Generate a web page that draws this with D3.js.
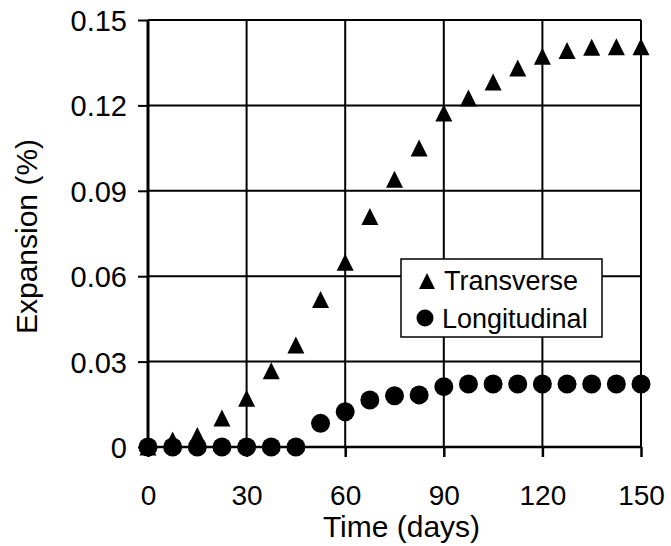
<!DOCTYPE html>
<html>
<head>
<meta charset="utf-8">
<script src="https://cdn.jsdelivr.net/npm/d3@7"></script>
<style>
html,body{margin:0;padding:0;background:#fff;}
svg{display:block;}
text{font-family:"Liberation Sans",Arial,Helvetica,sans-serif;fill:#000;}
</style>
</head>
<body>
<svg id="chart" width="671" height="546"></svg>
<script>
const days = [0,7.5,15,22.5,30,37.5,45,52.5,60,67.5,75,82.5,90,97.5,105,112.5,120,127.5,135,142.5,150];
const transverse = [0,0.0025,0.004,0.0102,0.0171,0.0268,0.0358,0.0518,0.0649,0.081,0.0941,0.105,0.1173,0.1226,0.1282,0.1331,0.1373,0.1393,0.1404,0.1406,0.1406];
const longitudinal = [0,0,0,0,0,0,0,0.0083,0.0124,0.0165,0.018,0.0183,0.0212,0.0221,0.0221,0.0221,0.0221,0.0221,0.0221,0.0221,0.0221];
const xTicks = [0,30,60,90,120,150];
const yTicks = [0,0.03,0.06,0.09,0.12,0.15];
const yTickLabels = ["0","0.03","0.06","0.09","0.12","0.15"];
const seriesNames = ["Transverse","Longitudinal"];
const xTitle = "Time (days)";
const yTitle = "Expansion (%)";

const svg = d3.select("#chart");
const L = 148, R = 641, T = 20, B = 447;
const x = d3.scaleLinear().domain([0,150]).range([L,R]);
const y = d3.scaleLinear().domain([0,0.15]).range([B,T]);

// gridlines
const g = svg.append("g");
g.selectAll("line.vg").data(xTicks).enter().append("line")
  .attr("x1", d=>x(d)).attr("x2", d=>x(d)).attr("y1", T).attr("y2", B)
  .attr("stroke","#000").attr("stroke-width",2);
g.selectAll("line.hg").data(yTicks).enter().append("line")
  .attr("x1", L).attr("x2", R).attr("y1", d=>y(d)).attr("y2", d=>y(d))
  .attr("stroke","#000").attr("stroke-width",2);

// axes
const xAxis = d3.axisBottom(x).tickValues(xTicks).tickSize(10).tickPadding(28).tickFormat(d3.format("d"));
const gx = svg.append("g").attr("transform",`translate(0,${B})`).call(xAxis);
gx.select(".domain").attr("stroke","#000").attr("stroke-width",2.5);
gx.selectAll(".tick line").attr("stroke","#000").attr("stroke-width",2.5);
gx.selectAll(".tick text").style("font-size","28px").attr("dy","0.71em").attr("y",38);

const yAxis = d3.axisLeft(y).tickValues(yTicks).tickSize(10).tickPadding(11).tickFormat((d,i)=>yTickLabels[i]);
const gy = svg.append("g").attr("transform",`translate(${L},0)`).call(yAxis);
gy.select(".domain").attr("stroke","#000").attr("stroke-width",3);
gy.selectAll(".tick line").attr("stroke","#000").attr("stroke-width",2);
gy.selectAll(".tick text").style("font-size","29px").attr("dy","0.36em");
svg.selectAll(".domain").attr("d", null);
// redraw axis lines explicitly
svg.append("line").attr("x1",x(0)).attr("x2",x(0)).attr("y1",T).attr("y2",B+1).attr("stroke","#000").attr("stroke-width",3);
svg.append("line").attr("x1",L).attr("x2",R).attr("y1",y(0)).attr("y2",y(0)).attr("stroke","#000").attr("stroke-width",2.5);

// custom triangle symbol
const tri = {draw(ctx, size){ const w = Math.sqrt(size); const h = w;
  ctx.moveTo(0,-h/2); ctx.lineTo(w/2,h/2); ctx.lineTo(-w/2,h/2); ctx.closePath(); }};
const triPath = d3.symbol().type(tri).size(17*17);
const circPath = d3.symbol().type(d3.symbolCircle).size(Math.PI*9.5*9.5);

svg.append("g").selectAll("path").data(days).enter().append("path")
  .attr("d", triPath)
  .attr("transform",(d,i)=>`translate(${x(d)},${y(transverse[i])})`)
  .attr("fill","#000");
svg.append("g").selectAll("path").data(days).enter().append("path")
  .attr("d", circPath)
  .attr("transform",(d,i)=>`translate(${x(d)},${y(longitudinal[i])})`)
  .attr("fill","#000");

// legend
const lg = svg.append("g");
lg.append("rect").attr("x",401).attr("y",259).attr("width",201).attr("height",78)
  .attr("fill","#fff").attr("stroke","#000").attr("stroke-width",1.5);
lg.append("path").attr("d", d3.symbol().type(tri).size(16*16)).attr("transform","translate(427,281)").attr("fill","#000");
lg.append("path").attr("d", d3.symbol().type(d3.symbolCircle).size(Math.PI*8.5*8.5)).attr("transform","translate(425,318)").attr("fill","#000");
lg.append("text").attr("x",444).attr("y",290).style("font-size","27px").text(seriesNames[0]);
lg.append("text").attr("x",442).attr("y",328).style("font-size","27px").text(seriesNames[1]);

// titles
svg.append("text").attr("x",(L+R)/2+7).attr("y",537).attr("text-anchor","middle").style("font-size","30px").text(xTitle);
svg.append("text").attr("transform",`translate(37,${(T+B)/2+3}) rotate(-90)`).attr("text-anchor","middle").style("font-size","30px").text(yTitle);
</script>
</body>
</html>
